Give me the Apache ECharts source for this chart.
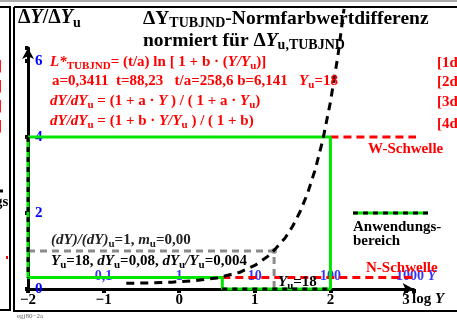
<!DOCTYPE html>
<html><head><meta charset="utf-8">
<script src="https://cdn.jsdelivr.net/npm/echarts@6/dist/echarts.min.js"></script>
<style>html,body{margin:0;padding:0;background:#fff}#c{width:457px;height:320px}</style>
</head><body><div id="c"></div>
<script>
// ---- data ----
const xTicks = [-2, -1, 0, 1, 2, 3];            // log Y
const yTicks = [0, 2, 4, 6];                      // ΔY/ΔYu
const yValuePos = [-1, 0, 1, 2, 3];               // positions of Y-value labels (log Y)
const yValueText = ['0,1', '1', '10', '100', '1000 {i|Y}'];
const yValueLevel = [0.34, 0.34, 0.34, 0.34, 0.34];
// dashed curve dY/dYu
const curveX = [-0.7, -0.4, -0.1, 0.2, 0.5, 0.8, 1.0, 1.2, 1.4, 1.5, 1.6, 1.7, 1.8, 1.9, 2.0, 2.1, 2.18];
const curveY = [0.15, 0.16, 0.18, 0.22, 0.29, 0.44, 0.62, 0.90, 1.34, 1.65, 2.04, 2.53, 3.15, 3.93, 4.92, 6.15, 7.37];
// application range (green)
const greenX = [-2, 2, 2, 0.57, 0.57, -2, -2];
const greenY = [4, 4, 0, 0, 0.3, 0.3, 4];
const greenAxisLeftX = [-2, -2], greenAxisLeftY = [4, 0.3];
const greenAxisBotX = [0.57, 2], greenAxisBotY = [0, 0];
// reference (grey) at Yu=18
const grayX = [-2, 1.255, 1.255];
const grayY = [1, 1, 0];
// thresholds
const wX = [2, 3.48], wY = [4, 4];
const nX = [0.57, 3.48], nY = [0.3, 0.3];

const zip = (a, b) => a.map((v, i) => [v, b[i]]);
const FONT = "'Liberation Serif','DejaVu Serif',serif";

function rich(size, color) {
  const L = size + 4;
  return {
    n: {fontFamily: FONT, fontWeight: 'bold', fontSize: size, fill: color, color: color, lineHeight: L},
    i: {fontFamily: FONT, fontWeight: 'bold', fontStyle: 'italic', fontSize: size, fill: color, color: color, lineHeight: L},
    s: {fontFamily: FONT, fontWeight: 'bold', fontSize: Math.round(size * 0.72), fill: color, color: color, lineHeight: L - 8, verticalAlign: 'bottom'}
  };
}
function txt(x, y, text, size, color) {
  return {type: 'text', x: x, y: y, z: 10,
    style: {text: text, rich: rich(size, color), fontFamily: FONT, fontWeight: 'bold', fontSize: size, fill: color, align: 'left', verticalAlign: 'middle'}};
}
function ln(x1, y1, x2, y2, color, w, dash) {
  return {type: 'line', z: 10, shape: {x1, y1, x2, y2}, style: {stroke: color, lineWidth: w, lineDash: dash || null}};
}

const chart = echarts.init(document.getElementById('c'), null, {renderer: 'canvas'});
const lineS = (name, data, color, w, type, z) => ({
  name, type: 'line', data, z, clip: false, showSymbol: false, symbol: 'none', silent: true, animation: false,
  lineStyle: {color, width: w, type}
});

chart.setOption({
  animation: false,
  backgroundColor: '#fff',
  grid: {left: 28, top: 48, right: 43.4, bottom: 31},
  xAxis: {
    type: 'value', min: -2, max: 3.1, interval: 1,
    splitLine: {show: false},
    axisLine: {onZero: false, lineStyle: {color: '#000', width: 3}, symbol: ['none', 'arrow'], symbolSize: [9, 11]},
    axisTick: {show: true, length: 4, lineStyle: {color: '#000', width: 4}},
    axisLabel: {
      margin: 4, color: '#000', fontFamily: FONT, fontWeight: 'bold', fontSize: 15,
      formatter: v => xTicks.indexOf(v) >= 0 ? String(v).replace('-', '\u2212') : ''
    }
  },
  yAxis: {
    type: 'value', min: 0, max: 6.34, interval: 2,
    splitLine: {show: false},
    axisLine: {onZero: false, lineStyle: {color: '#000', width: 3}, symbol: ['none', 'arrow'], symbolSize: [9, 11]},
    axisTick: {show: true, length: 3, lineStyle: {color: '#000', width: 4}},
    axisLabel: {
      inside: true, margin: 7, color: '#0000ff', fontFamily: FONT, fontWeight: 'bold', fontSize: 15,
      formatter: v => yTicks.indexOf(v) >= 0 ? String(v) : ''
    }
  },
  series: [
    {
      type: 'scatter', z: 1, symbolSize: 0, silent: true, animation: false,
      data: yValuePos.map((x, i) => [x, yValueLevel[i], yValueText[i]]),
      label: {
        show: true, position: 'inside', color: '#0000ff', fontFamily: FONT, fontWeight: 'bold', fontSize: 14,
        formatter: p => p.value[2],
        rich: {i: {color: '#0000ff', fontFamily: FONT, fontWeight: 'bold', fontStyle: 'italic', fontSize: 14}}
      },
      labelLayout: p => (p.dataIndex === 4 ? {dx: 10} : {})
    },
    lineS('W', zip(wX, wY), '#ff0000', 3, [8, 5], 2),
    lineS('N', zip(nX, nY), '#ff0000', 3, [8, 5], 2),
    lineS('gray', zip(grayX, grayY), '#8a8a8a', 3, [7, 5], 3),
    {
      type: 'scatter', z: 3, data: [[grayX[1], grayY[1]]], symbol: 'circle', symbolSize: 6, silent: true, animation: false,
      itemStyle: {color: '#8a8a8a'}
    },
    lineS('green', zip(greenX, greenY), '#00e600', 3, 'solid', 4),
    lineS('gl', zip(greenAxisLeftX, greenAxisLeftY), '#000', 3, [5, 5], 5),
    lineS('gb', zip(greenAxisBotX, greenAxisBotY), '#000', 3, [5, 5], 5),
    lineS('curve', zip(curveX, curveY), '#000', 3, [8, 6], 6)
  ],
  graphic: [
    // frames
    ln(0, 1, 457, 1, '#aaaaaa', 2),
    ln(0, 7, 11, 7, '#000', 2),
    ln(10, 7, 10, 311, '#000', 2),
    ln(0, 310, 11, 310, '#000', 2),
    ln(14, 7, 457, 7, '#000', 2),
    ln(14, 7, 14, 312, '#000', 2),
    ln(14, 311, 457, 311, '#000', 2),
    // left panel remnants
    txt(-3, 66, '{n|]}', 15, '#ff0000'),
    txt(-3, 86, '{n|]}', 15, '#ff0000'),
    txt(-3, 106, '{n|]}', 15, '#ff0000'),
    txt(-3, 126, '{n|]}', 15, '#ff0000'),
    ln(0, 191, 3, 191, '#000', 3),
    txt(-5, 202, '{n|gs}', 15, '#000'),
    {type: 'rect', z: 10, shape: {x: 6, y: 256, width: 2, height: 3}, style: {fill: '#ff0000'}},
    // titles
    txt(18, 18, '{n|Δ}{i|Y}{n|/Δ}{i|Y}{s|u}', 20, '#000'),
    txt(143, 19, '{n|ΔY}{s|TUBJND}{n|-Normfarbwertdifferenz}', 19.5, '#000'),
    txt(143, 41, '{n|normiert für Δ}{i|Y}{s|u,TUBJND}', 19.5, '#000'),
    // formulas
    txt(50, 62, '{i|L*}{s|TUBJND}{n|= (t/a) ln [ 1 + b · (}{i|Y/Y}{s|u}{n|)]}', 15, '#ff0000'),
    txt(52, 81, '{n|a=0,3411  t=88,23   t/a=258,6 b=6,141   }{i|Y}{s|u}{n|=18}', 15, '#ff0000'),
    txt(50, 101, '{i|dY/dY}{s|u}{n| = (1 + a · }{i|Y}{n| ) / ( 1 + a · }{i|Y}{s|u}{n|)}', 15, '#ff0000'),
    txt(50, 121, '{i|dY/dY}{s|u}{n| = (1 + b · }{i|Y/Y}{s|u}{n| ) / ( 1 + b)}', 15, '#ff0000'),
    txt(437, 63, '{n|[1d}', 15, '#ff0000'),
    txt(437, 82, '{n|[2d}', 15, '#ff0000'),
    txt(437, 102, '{n|[3d}', 15, '#ff0000'),
    txt(437, 124, '{n|[4d}', 15, '#ff0000'),
    // in-plot notes
    txt(51, 240, '{i|(dY)/(dY)}{s|u}{n|=1, }{i|m}{s|u}{n|=0,00}', 15, '#222'),
    txt(51, 261, '{i|Y}{s|u}{n|=18, }{i|dY}{s|u}{n|=0,08, }{i|dY}{s|u}{i|/Y}{s|u}{n|=0,004}', 15, '#000'),
    txt(278, 282, '{i|Y}{s|u}{n|=18}', 15, '#000'),
    txt(368, 149, '{n|W-Schwelle}', 15, '#ff0000'),
    txt(366, 268, '{n|N-Schwelle}', 15, '#ff0000'),
    // legend
    ln(353, 213, 428, 213, '#00e600', 3),
    ln(353, 213, 428, 213, '#000', 3, [5, 5]),
    txt(353, 227, '{n|Anwendungs-}', 15, '#000'),
    txt(353, 241, '{n|bereich}', 15, '#000'),
    // axis title
    txt(412, 299, '{n|log }{i|Y}', 15, '#000'),
    {type: 'text', x: 17, y: 316, z: 10, style: {text: 'egj80\u22122a', fontFamily: FONT, fontSize: 7, fill: '#666', verticalAlign: 'middle'}}
  ]
});
</script></body></html>
